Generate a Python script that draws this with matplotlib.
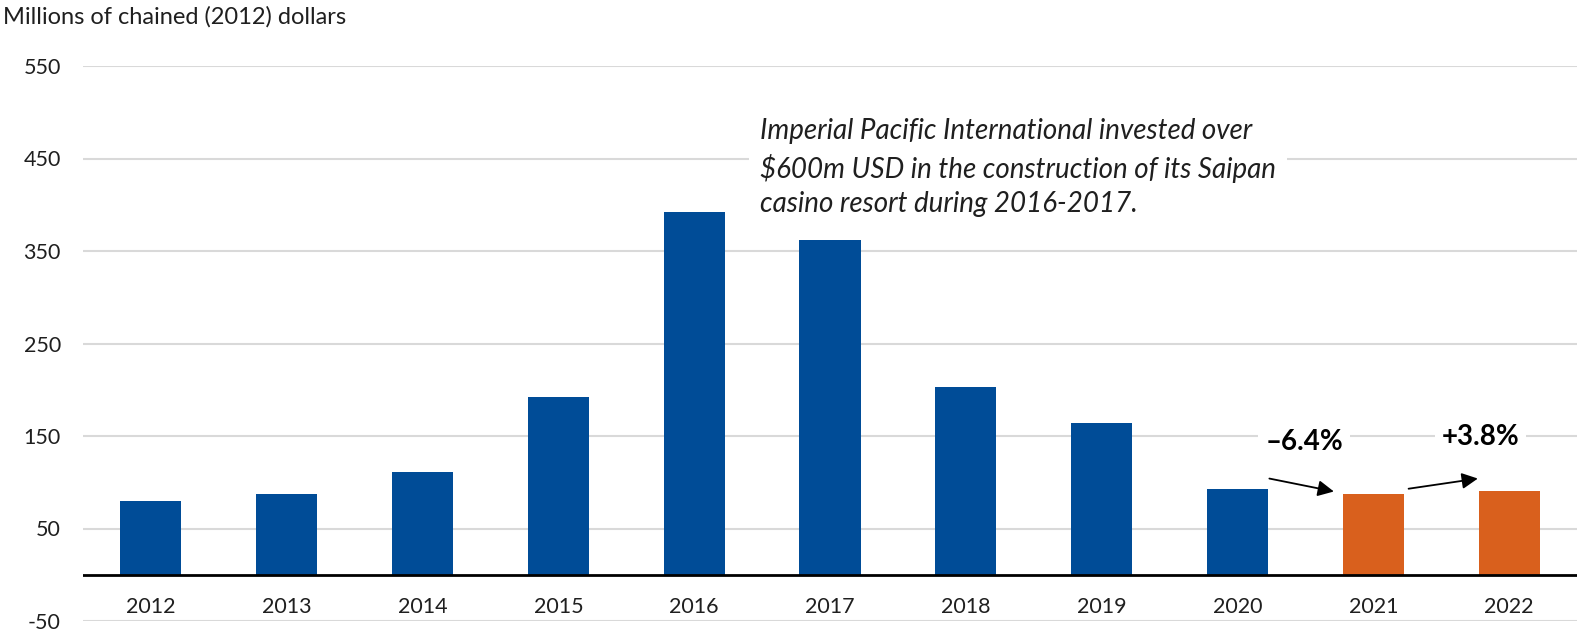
import matplotlib
matplotlib.use('Agg')
import matplotlib.pyplot as plt

# data
years = ['2012', '2013', '2014', '2015', '2016', '2017', '2018', '2019', '2020', '2021', '2022']
values = [80, 87.5, 111, 192, 392, 362, 203, 164, 93, 87.5, 91]
colors = ['#004C97'] * 9 + ['#D9601D'] * 2
yticks = [-50, 50, 150, 250, 350, 450, 550]
changes = ['\u20136.4%', '+3.8%']
note = ("Imperial Pacific International invested over\n"
        "$600m USD in the construction of its Saipan\n"
        "casino resort during 2016-2017.")

plt.rcParams['font.family'] = ['Lato', 'DejaVu Sans']
text_color = '#1F1F1F'

fig = plt.figure(figsize=(15.77, 6.35), dpi=100)
ax = fig.add_axes([83 / 1577, 1 - 621 / 635, 1 - 83 / 1577, (621 - 66) / 635])

x = range(len(years))
ax.bar(x, values, width=0.45, color=colors, zorder=3)

ax.set_xlim(-0.5, len(years) - 0.5)
ax.set_ylim(-50, 550)
ax.set_yticks(yticks)
ax.set_yticklabels([str(t) for t in yticks], fontsize=15.5, color=text_color)
ax.set_xticks([])
for s in ax.spines.values():
    s.set_visible(False)
ax.tick_params(axis='y', length=0, pad=16)
ax.grid(axis='y', color='#D9D9D9', linewidth=1.5, zorder=0)
ax.axhline(0, color='black', linewidth=2, zorder=4)

# category labels sit just under the zero line
for i, yr in enumerate(years):
    ax.text(i, -35, yr, ha='center', va='center', fontsize=15.5, color=text_color)

fig.text(3 / 1577, 1 - 17 / 635, 'Millions of chained (2012) dollars', ha='left', va='center',
         fontsize=17, color=text_color)

ax.text(4.485, 440, note, ha='left', va='center', fontsize=20, style='italic',
        color=text_color, linespacing=1.4, zorder=5,
        bbox=dict(facecolor='white', edgecolor='none', pad=8))

# change labels and arrows for the forecast years
ax.text(8.49, 143, changes[0], ha='center', va='center', fontsize=20, fontweight='bold',
        color='black', zorder=5, bbox=dict(facecolor='white', edgecolor='none', pad=5))
ax.text(9.79, 149, changes[1], ha='center', va='center', fontsize=20, fontweight='bold',
        color='black', zorder=5, bbox=dict(facecolor='white', edgecolor='none', pad=5))
ax.annotate('', xy=(8.71, 90), xytext=(8.235, 104),
            arrowprops=dict(arrowstyle='-|>', color='black', lw=1.3, mutation_scale=24,
                            shrinkA=0, shrinkB=0), zorder=6)
ax.annotate('', xy=(9.77, 104), xytext=(9.26, 93),
            arrowprops=dict(arrowstyle='-|>', color='black', lw=1.3, mutation_scale=24,
                            shrinkA=0, shrinkB=0), zorder=6)

fig.savefig('out.png', dpi=100)
